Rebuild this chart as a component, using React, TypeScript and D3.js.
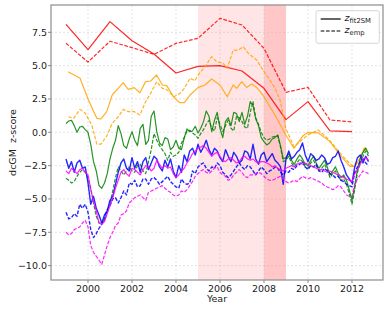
import * as d3 from 'd3'

const W = 389
const H = 311
const margin = { top: 5, right: 6, bottom: 31, left: 51 }

const xTicks = [2000, 2002, 2004, 2006, 2008, 2010, 2012]
const yTicks = [7.5, 5.0, 2.5, 0.0, -2.5, -5.0, -7.5, -10.0]

// crisis shading
const crisisSpans = [
  { from: 2005, to: 2008, opacity: 0.1 },
  { from: 2008, to: 2009, opacity: 0.22 },
]

// yearly points
const redYears = [1999, 2000, 2001, 2002, 2003, 2004, 2005, 2006, 2007, 2008, 2009, 2010, 2011, 2012]
const redFit = [8.1, 6.2, 8.3, 6.87, 5.87, 4.45, 4.95, 5.0, 4.6, 3.3, 0.95, 2.3, 0.1, 0.05]
const redEmp = [6.68, 5.27, 6.83, 6.35, 5.85, 6.67, 7.05, 8.55, 8.05, 6.3, 3.0, 3.37, 0.92, 0.78]

// irregular points [year, z]
const orangeFit: [number, number][] = [
  [1999.1, 4.55], [1999.64, 4.05], [2000.0, 2.5], [2000.4, 1.05], [2000.59, 1.0], [2000.85, 1.55],
  [2001.1, 2.8], [2001.6, 3.72], [2001.83, 3.22], [2002.1, 3.35], [2002.36, 2.97], [2002.62, 3.8],
  [2002.85, 3.85], [2003.12, 4.3], [2003.38, 3.55], [2003.58, 3.5], [2003.91, 2.6], [2004.18, 2.22],
  [2004.38, 2.22], [2004.64, 2.8], [2005.01, 3.37], [2005.32, 3.55], [2005.62, 4.0], [2006.0, 3.55],
  [2006.33, 2.67], [2006.6, 3.55], [2006.76, 3.3], [2006.99, 3.8], [2007.21, 3.37], [2007.44, 3.62],
  [2007.67, 3.37], [2008.0, 2.67], [2008.5, 1.3], [2008.99, -0.2], [2009.36, -1.2], [2009.75, -0.3],
  [2010.0, 0.0], [2010.47, -0.05], [2011.0, -0.7], [2011.45, -1.7], [2011.91, -2.55], [2012.14, -2.55],
  [2012.36, -1.95], [2012.6, -1.15], [2012.67, -1.3],
]
const orangeEmp: [number, number][] = [
  [1999.1, 1.17], [1999.35, 1.05], [1999.64, 1.72], [1999.86, 1.47], [2000.17, 0.55], [2000.4, -0.88],
  [2000.59, -0.88], [2000.85, -0.28], [2001.1, 0.67], [2001.38, 1.17], [2001.6, 1.72], [2001.83, 1.55],
  [2002.1, 1.55], [2002.36, 1.3], [2002.62, 2.3], [2002.85, 2.92], [2003.12, 3.8], [2003.38, 3.3],
  [2003.58, 3.2], [2003.91, 2.67], [2004.18, 2.92], [2004.38, 3.3], [2004.64, 4.05], [2004.86, 3.87],
  [2005.01, 4.3], [2005.32, 4.92], [2005.62, 5.67], [2005.85, 5.3], [2006.15, 5.17], [2006.33, 4.8],
  [2006.6, 6.17], [2006.83, 6.17], [2007.06, 6.42], [2007.29, 5.92], [2007.67, 5.42], [2008.0, 4.55],
  [2008.27, 3.92], [2008.5, 3.3], [2008.73, 2.42], [2008.99, 0.3], [2009.36, -1.08], [2009.99, -0.2],
  [2010.47, 0.17], [2010.97, -0.58], [2011.6, -1.83], [2012.0, -2.5], [2012.3, -2.2], [2012.55, -1.2],
  [2012.67, -1.3],
]

// 1.5-month sampling from 1999.0 to 2012.75
const sampleYears = d3.range(111).map((i) => 1999 + i / 8)

const greenFit = [
  0.65, 0.85, 0.9, 0.5, 0.0, 0.4, 0.45, 0.2, 0.0, -0.9, -2.2, -2.9, -4.0, -4.2, -3.8, -3.1,
  -2.0, -1.2, -0.6, 0.5, -0.1, -1.0, -1.2, -0.5, 0.05, -0.6, -1.0, 0.3, 0.6, -0.9, -0.6, 1.2,
  1.6, 0.05, -0.8, -1.0, -0.4, -0.5, -1.3, -1.1, -0.6, -1.2, -1.3, -0.4, 0.25, 0.05, 0.1, 0.45,
  -0.05, 0.3, 0.8, 1.6, 1.2, 0.05, 0.9, 1.5, 0.3, -0.4, 0.8, 1.1, 0.5, 1.5, 1.4, 0.8,
  1.5, 0.6, 1.2, 2.3, 2.0, 1.0, 0.5, -0.4, -0.7, -0.95, -0.8, -0.5, -0.4, -0.2, -1.0, -2.0,
  -1.9, -1.6, -2.1, -2.4, -2.0, -1.7, -2.0, -2.4, -2.5, -2.1, -1.8, -2.3, -2.7, -2.4, -2.1, -2.6,
  -3.2, -2.9, -2.6, -3.1, -3.4, -3.2, -3.6, -4.3, -5.1, -4.0, -2.8, -2.0, -1.5, -1.2, -1.6,
]
const greenEmp = [
  -3.45, -3.6, -3.8, -3.7, -3.3, -3.0, -2.8, -3.0, -3.4, -4.2, -5.3, -6.3, -6.8, -6.8, -6.6, -6.0,
  -5.3, -4.4, -3.4, -2.6, -2.9, -3.2, -2.9, -2.6, -2.9, -3.0, -2.5, -2.4, -2.9, -3.1, -2.2, -1.3,
  -0.1, -0.6, -1.0, -1.3, -1.6, -2.1, -1.5, -1.8, -1.7, -1.5, -0.8, -0.4, 0.1, 0.15, -0.05, -0.2,
  -0.45, -0.1, 0.2, 0.6, 0.9, 0.3, 0.1, 1.1, 0.6, 0.05, 0.5, 0.9, 0.3, 0.1, 1.2, 1.1,
  0.8, 0.4, 0.3, 1.5, 2.3, 1.1, 0.6, 0.0, -0.4, -0.6, -0.5, -0.35, -0.3, -0.25, -1.1, -2.2,
  -2.1, -1.8, -2.3, -2.6, -2.3, -2.0, -2.2, -2.6, -2.7, -2.3, -2.1, -2.5, -2.9, -2.7, -2.4, -2.8,
  -3.4, -3.1, -2.9, -3.3, -3.6, -3.5, -3.9, -4.6, -5.4, -4.3, -3.0, -2.3, -1.8, -1.4, -1.8,
]
const blueFit = [
  -2.0, -2.7, -2.2, -3.0, -2.3, -2.1, -2.7, -2.6, -3.8, -5.4, -4.8, -5.7, -6.2, -6.8, -6.2, -5.9,
  -5.1, -4.8, -3.9, -3.0, -2.3, -2.0, -2.7, -2.9, -1.9, -2.7, -2.2, -3.0, -2.2, -1.9, -2.8, -2.3,
  -1.8, -2.0, -2.6, -2.9, -2.1, -2.6, -2.0, -2.9, -3.4, -2.5, -3.0, -1.7, -2.2, -1.4, -1.2, -1.7,
  -0.9, -1.5, -1.1, -0.6, -1.3, -1.7, -1.2, -1.4, -1.9, -2.2, -1.3, -1.8, -2.2, -1.5, -1.8, -2.3,
  -2.1, -1.4, -1.5, -2.0, -0.9, -2.0, -2.4, -1.7, -1.5, -2.2, -1.9, -1.6, -2.1, -2.3, -2.6, -3.9,
  -2.0, -1.4, -2.0, -1.8, -1.5, -1.3, -0.8, -1.7, -2.2, -1.6, -1.8, -2.1, -2.0, -1.7, -1.9, -2.4,
  -2.3, -1.9, -1.8, -1.4, -2.1, -2.6, -3.2, -3.5, -3.8, -2.6, -1.9, -1.7, -2.3, -1.8, -2.2,
]
const blueEmp = [
  -6.0, -6.5, -6.4, -6.1, -6.3, -5.4, -5.7, -5.4, -6.0, -7.3, -7.9, -7.6, -7.2, -6.9, -6.5, -5.8,
  -5.5, -5.0, -4.9, -5.3, -4.9, -4.4, -4.7, -3.8, -3.9, -3.6, -4.1, -4.0, -3.5, -3.5, -3.9, -3.5,
  -3.4, -3.6, -3.9, -3.7, -3.5, -3.3, -3.7, -3.9, -4.1, -4.2, -3.5, -3.8, -3.9, -3.8, -2.9, -3.1,
  -2.6, -2.4, -2.3, -2.7, -2.9, -2.6, -2.7, -2.3, -2.5, -3.0, -3.2, -3.4, -3.2, -2.9, -2.6, -2.3,
  -2.6, -2.8, -2.5, -2.6, -2.9, -3.2, -2.9, -2.6, -2.8, -3.1, -2.9, -2.8, -2.6, -2.7, -3.0, -3.2,
  -2.9, -3.0, -2.7, -2.8, -2.5, -2.4, -2.2, -2.6, -2.8, -2.5, -2.6, -2.4, -2.9, -3.0, -2.7, -2.9,
  -3.1, -3.2, -3.4, -3.3, -3.6, -3.7, -3.9, -4.0, -4.1, -3.0, -2.6, -2.2, -2.0, -2.3, -2.5,
]
const magentaFit = [
  -2.9, -3.1, -2.7, -2.9, -3.1, -2.8, -2.7, -3.0, -3.2, -4.3, -5.2, -5.9, -6.8, -6.9, -6.7, -6.1,
  -5.5, -4.9, -4.2, -3.6, -3.0, -2.8, -3.1, -3.3, -2.7, -2.8, -3.0, -3.2, -2.8, -2.5, -2.6, -2.9,
  -2.7, -2.1, -2.4, -2.7, -2.5, -2.7, -2.6, -3.1, -3.4, -3.2, -2.9, -2.7, -2.3, -2.0, -1.6, -1.4,
  -1.2, -1.1, -1.0, -1.2, -1.5, -1.8, -1.6, -1.5, -1.8, -2.1, -2.2, -2.0, -1.9, -2.1, -2.3, -2.2,
  -1.9, -1.8, -2.0, -2.1, -2.0, -2.2, -2.3, -2.2, -2.2, -2.3, -2.4, -2.6, -2.5, -2.7, -2.8, -2.9,
  -2.7, -2.6, -2.5, -2.6, -2.4, -2.3, -2.4, -2.3, -2.4, -2.5, -2.6, -2.7, -2.8, -2.8, -2.9, -3.0,
  -2.9, -3.0, -3.1, -3.2, -3.3, -3.4, -3.5, -3.6, -3.7, -3.1, -2.8, -2.4, -2.0, -1.9, -2.1,
]
const magentaEmp = [
  -7.5, -7.7, -7.6, -7.3, -7.2, -7.1, -6.8, -6.6, -7.1, -8.5, -9.0, -9.3, -9.6, -9.9, -9.2, -8.5,
  -7.9, -7.5, -7.0, -6.8, -6.2, -6.1, -5.9, -5.3, -5.1, -4.9, -4.8, -4.7, -4.9, -5.1, -4.5, -4.4,
  -4.3, -4.2, -4.1, -4.0, -4.2, -4.4, -4.5, -4.7, -4.8, -4.7, -4.4, -4.5, -4.3, -4.0, -3.7, -3.3,
  -3.1, -2.9, -2.8, -3.0, -3.1, -2.9, -2.7, -2.6, -3.0, -3.2, -3.3, -3.6, -3.5, -3.2, -3.0, -2.8,
  -3.0, -3.3, -3.4, -3.2, -3.2, -3.1, -3.0, -3.1, -3.3, -3.5, -3.6, -3.6, -3.5, -3.4, -3.3, -3.5,
  -3.7, -3.8, -3.7, -3.6, -3.7, -3.5, -3.3, -3.4, -3.5, -3.4, -3.5, -3.6, -3.7, -3.8, -4.0, -4.1,
  -4.2, -4.3, -4.2, -4.0, -4.1, -4.4, -4.7, -4.8, -4.8, -3.9, -3.5, -3.2, -2.9, -3.0, -3.1,
]

const font = 'DejaVu Sans, sans-serif'
const dash = '3.7,1.6'

type Series = { key: string; points: [number, number][]; color: string; dashed: boolean; width: number }

const zip = (xs: number[], ys: number[]) => xs.map((x, i) => [x, ys[i]] as [number, number])

const series: Series[] = [
  { key: 'redFit', points: zip(redYears, redFit), color: '#ff0000', dashed: false, width: 1.2 },
  { key: 'redEmp', points: zip(redYears, redEmp), color: '#ff0000', dashed: true, width: 1.2 },
  { key: 'orangeFit', points: orangeFit, color: '#ffa500', dashed: false, width: 1.2 },
  { key: 'orangeEmp', points: orangeEmp, color: '#ffa500', dashed: true, width: 1.2 },
  { key: 'greenFit', points: zip(sampleYears, greenFit), color: '#008000', dashed: false, width: 1.2 },
  { key: 'greenEmp', points: zip(sampleYears, greenEmp), color: '#008000', dashed: true, width: 1.2 },
  { key: 'blueFit', points: zip(sampleYears, blueFit), color: '#0000ff', dashed: false, width: 1.4 },
  { key: 'blueEmp', points: zip(sampleYears, blueEmp), color: '#0000ff', dashed: true, width: 1.4 },
  { key: 'magentaFit', points: zip(sampleYears, magentaFit), color: '#ff00ff', dashed: false, width: 1.2 },
  { key: 'magentaEmp', points: zip(sampleYears, magentaEmp), color: '#ff00ff', dashed: true, width: 1.2 },
]

export default function App() {
  const x0 = margin.left
  const x1 = W - margin.right
  const y0 = margin.top
  const y1 = H - margin.bottom

  const x = d3.scaleLinear().domain([1998.318, 2013.41]).range([x0, x1])
  const y = d3.scaleLinear().domain([-11.08, 9.55]).range([y1, y0])

  const line = d3
    .line<[number, number]>()
    .x((d) => x(d[0]))
    .y((d) => y(d[1]))

  return (
    <div style={{ position: 'absolute', left: 0, top: 0 }}>
      <svg width={W} height={H} viewBox={`0 0 ${W} ${H}`} style={{ display: 'block', background: '#fff' }}>
        <defs>
          <clipPath id="plotArea">
            <rect x={x0} y={y0} width={x1 - x0} height={y1 - y0} />
          </clipPath>
        </defs>

        {crisisSpans.map((s) => (
          <rect
            key={s.from}
            x={x(s.from)}
            y={y0}
            width={x(s.to) - x(s.from)}
            height={y1 - y0}
            fill="#ff0000"
            fillOpacity={s.opacity}
          />
        ))}

        <g stroke="#b0b0b0" strokeOpacity={0.5} strokeWidth={0.7} strokeDasharray="2,2">
          {xTicks.map((t) => (
            <line key={t} x1={x(t)} x2={x(t)} y1={y0} y2={y1} />
          ))}
          {yTicks.map((t) => (
            <line key={t} x1={x0} x2={x1} y1={y(t)} y2={y(t)} />
          ))}
        </g>

        <g clipPath="url(#plotArea)" fill="none" strokeLinejoin="round">
          {series.map((s) => (
            <path
              key={s.key}
              d={line(s.points) ?? ''}
              stroke={s.color}
              strokeWidth={s.width}
              strokeOpacity={0.85}
              strokeDasharray={s.dashed ? dash : undefined}
            />
          ))}
        </g>

        <rect x={x0} y={y0} width={x1 - x0} height={y1 - y0} fill="none" stroke="#8c8c8c" strokeWidth={1.2} />

        <g fontFamily={font} fontSize={9.5} fill="#222">
          {xTicks.map((t) => (
            <g key={t}>
              <line x1={x(t)} x2={x(t)} y1={y1} y2={y1 + 3} stroke="#8c8c8c" />
              <text x={x(t)} y={y1 + 11.5} textAnchor="middle">
                {t}
              </text>
            </g>
          ))}
          {yTicks.map((t) => (
            <g key={t}>
              <line x1={x0 - 3} x2={x0} y1={y(t)} y2={y(t)} stroke="#8c8c8c" />
              <text x={x0 - 4} y={y(t)} dy="0.35em" textAnchor="end">
                {d3.format('.1f')(t).replace('-', '\u2212')}
              </text>
            </g>
          ))}
          <text x={(x0 + x1) / 2} y={H - 9} textAnchor="middle">
            Year
          </text>
          <text transform={`translate(16 ${(y0 + y1) / 2}) rotate(-90)`} textAnchor="middle" xmlSpace="preserve">
            dcGM  z-score
          </text>
        </g>

        <g fontFamily={font}>
          <rect x={316} y={10.7} width={63.3} height={32.6} rx={2} fill="#fff" fillOpacity={0.85} stroke="#cccccc" strokeWidth={0.8} />
          <line x1={320.7} x2={340.7} y1={19} y2={19} stroke="#000" strokeWidth={1.2} />
          <line x1={320.7} x2={340.7} y1={31} y2={31} stroke="#000" strokeWidth={1.2} strokeDasharray={dash} />
          <text x={344.5} y={21} fontSize={9.5} fill="#222">
            <tspan fontStyle="italic">z</tspan>
            <tspan fontSize={6.8} dy={2}>fit2SM</tspan>
          </text>
          <text x={344.5} y={33} fontSize={9.5} fill="#222">
            <tspan fontStyle="italic">z</tspan>
            <tspan fontSize={6.8} dy={2}>emp</tspan>
          </text>
        </g>
      </svg>
    </div>
  )
}
